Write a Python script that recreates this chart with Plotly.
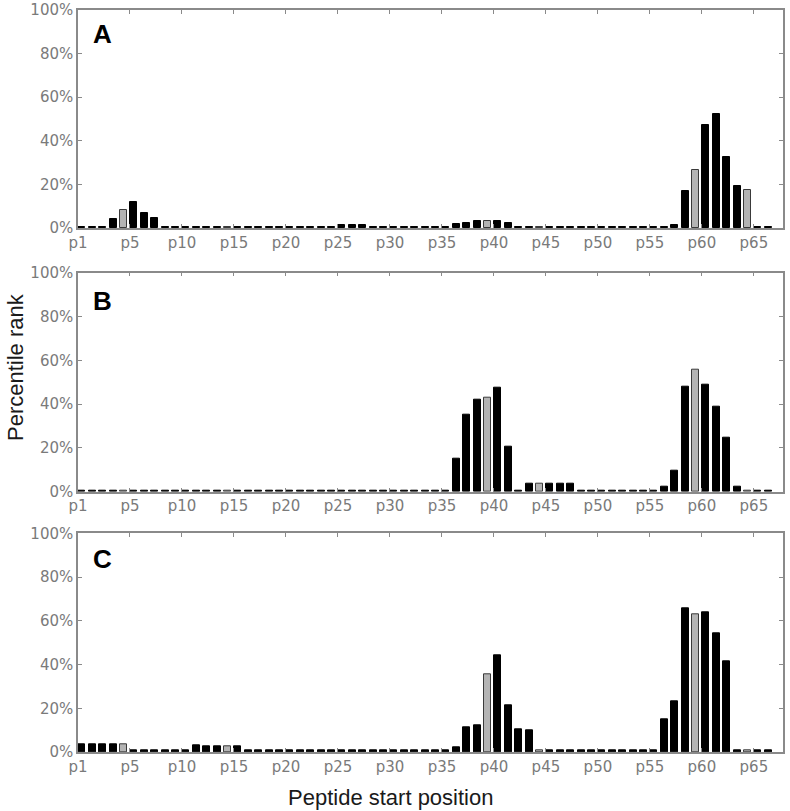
import numpy as np
import plotly.graph_objects as go
from plotly.subplots import make_subplots

# Peptide index 0..66 -> p1..p67
peptides = [f"p{i}" for i in range(1, 68)]
tick_positions = list(range(0, 66, 5))
tick_labels = ["p1"] + [f"p{i}" for i in range(5, 66, 5)]

# Peptides drawn in grey (1-based numbers)
grey_peptides = [5, 15, 40, 45, 60, 65]

panel_a = [0.6, 0.6, 0.6, 4.1, 8.3, 12.1, 7.0, 4.6, 0.6, 0.6,
           0.6, 0.6, 0.6, 0.6, 0.6, 0.6, 0.6, 0.6, 0.6, 0.6,
           0.6, 0.6, 0.6, 0.6, 0.6, 1.3, 1.3, 1.3, 0.6, 0.6,
           0.6, 0.6, 0.6, 0.6, 0.6, 0.6, 1.7, 2.4, 3.0, 3.0,
           3.0, 2.1, 0.6, 0.6, 0.6, 0.6, 0.6, 0.6, 0.6, 0.6,
           0.6, 0.6, 0.6, 0.6, 0.6, 0.6, 0.6, 1.2, 17.1, 26.8,
           47.2, 52.3, 32.7, 19.3, 17.6, 0.6, 0.6]

panel_b = [0.6, 0.6, 0.6, 0.6, 0.6, 0.6, 0.6, 0.6, 0.6, 0.6,
           0.6, 0.6, 0.6, 0.6, 0.6, 0.6, 0.6, 0.6, 0.6, 0.6,
           0.6, 0.6, 0.6, 0.6, 0.6, 0.6, 0.6, 0.6, 0.6, 0.6,
           0.6, 0.6, 0.6, 0.6, 0.6, 0.6, 15.2, 35.2, 41.8, 42.7,
           47.6, 20.6, 0.6, 3.5, 3.5, 3.5, 3.5, 3.5, 0.6, 0.6,
           0.6, 0.6, 0.6, 0.6, 0.6, 0.6, 2.3, 9.8, 48.0, 55.5,
           49.0, 38.8, 24.7, 2.3, 0.6, 0.6, 0.6]

panel_c = [3.5, 3.5, 3.5, 3.5, 3.5, 0.6, 0.6, 0.6, 0.6, 0.6,
           0.6, 3.0, 2.6, 2.6, 2.6, 2.6, 0.6, 0.6, 0.6, 0.6,
           0.6, 0.6, 0.6, 0.6, 0.6, 0.6, 0.6, 0.6, 0.6, 0.6,
           0.6, 0.6, 0.6, 0.6, 0.6, 0.6, 2.1, 11.3, 12.2, 35.7,
           44.4, 21.5, 10.5, 10.1, 0.6, 0.6, 0.6, 0.6, 0.6, 0.6,
           0.6, 0.6, 0.6, 0.6, 0.6, 0.6, 15.1, 23.1, 65.8, 62.9,
           64.1, 54.5, 41.5, 0.6, 0.6, 0.6, 0.6]

panels = [("A", panel_a), ("B", panel_b), ("C", panel_c)]
y_ticks = [0, 20, 40, 60, 80, 100]
y_labels = [f"{v}%" for v in y_ticks]

W, H = 790, 811
ml, mr, mt, mb = 78, 7, 10, 59
plot_h = H - mt - mb
plot_w = W - ml - mr

def py(ypx):
    return (H - mb - ypx) / plot_h

def px(xpx):
    return (xpx - ml) / plot_w

domains = [(py(228), 1.0), (py(491.7), py(272.7)), (0.0, py(533.3))]
letter_y = [34, 301, 559]

fig = make_subplots(rows=3, cols=1)

positions = np.arange(len(peptides))
grey_set = set(grey_peptides)

for i, (name, vals) in enumerate(panels):
    colors = ["#b4b4b4" if (k + 1) in grey_set else "#000000" for k in range(len(vals))]
    line_colors = ["#3a3a3a" if (k + 1) in grey_set else "#000000" for k in range(len(vals))]
    fig.add_trace(go.Bar(
        x=positions, y=vals, width=0.68, offset=0.04,
        marker=dict(color=colors, line=dict(color=line_colors, width=1)),
        customdata=peptides, hovertemplate="%{customdata}: %{y}%<extra></extra>",
        showlegend=False), row=i + 1, col=1)

axis_common = dict(showline=True, linecolor="#8a8a8a", linewidth=1.5, mirror="allticks",
                   ticks="inside", ticklen=4, tickcolor="#8a8a8a", tickwidth=1,
                   showgrid=False, zeroline=False,
                   tickfont=dict(family="DejaVu Sans", size=15, color="#7a7a7a"))

for i in range(3):
    xa = "xaxis" if i == 0 else f"xaxis{i+1}"
    ya = "yaxis" if i == 0 else f"yaxis{i+1}"
    fig.layout[xa].update(range=[0, 67.8], tickmode="array", tickvals=tick_positions,
                          ticktext=tick_labels, domain=[0, 1], **axis_common)
    fig.layout[ya].update(range=[0, 100], tickmode="array", tickvals=y_ticks,
                          ticktext=y_labels, domain=list(domains[i]), **axis_common)
    fig.add_annotation(text=f"<b>{panels[i][0]}</b>", xref="paper", yref="paper",
                       x=px(102), y=py(letter_y[i]), xanchor="center", yanchor="middle",
                       showarrow=False, font=dict(family="Liberation Sans", size=26, color="#000"))

fig.add_annotation(text="Peptide start position", xref="paper", yref="paper",
                   x=px(390), y=py(797), xanchor="center", yanchor="middle", showarrow=False,
                   font=dict(family="Liberation Sans", size=22, color="#1a1a1a"))
fig.add_annotation(text="Percentile rank", xref="paper", yref="paper",
                   x=px(15), y=py(367), xanchor="center", yanchor="middle", showarrow=False,
                   textangle=-90,
                   font=dict(family="Liberation Sans", size=22, color="#1a1a1a"))

fig.update_layout(width=W, height=H,
                  margin=dict(l=ml, r=mr, t=mt, b=mb, autoexpand=False),
                  plot_bgcolor="white", paper_bgcolor="white", bargap=0)

fig.write_html("out.html", config={"displayModeBar": False},
               post_script="document.body.style.margin='0';document.body.style.overflow='hidden';")
